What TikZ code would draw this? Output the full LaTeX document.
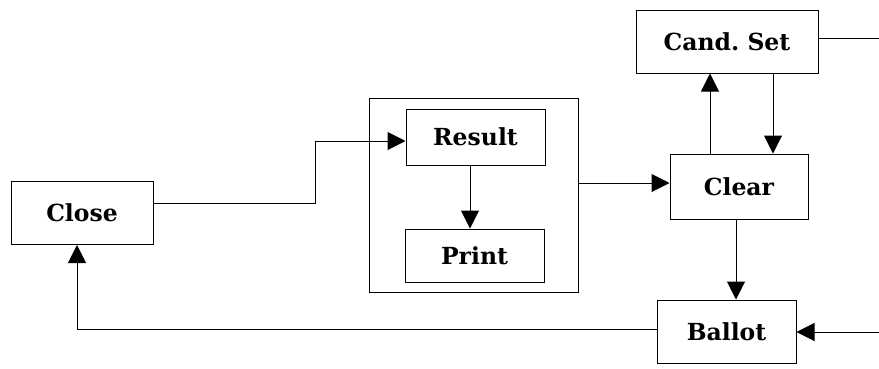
\documentclass[tikz,border=0pt]{standalone}
\usepackage{fontspec}
\setmainfont{DejaVu Serif}
\usetikzlibrary{arrows.meta}
\begin{document}
\begin{tikzpicture}[x=1pt,y=-1pt,
  box/.style={draw, line width=1pt, inner sep=0pt, font=\fontsize{23.5}{27}\selectfont\bfseries},
  link/.style={line width=1pt},
  arr/.style={link, -{Triangle[length=18pt,width=18pt]}}]
\useasboundingbox (0,0) rectangle (879,368);
\node[box, minimum width=142pt, minimum height=63pt] (close) at (82,213) {Close};
\draw[line width=1pt] (369,98) rectangle (578,292);
\coordinate (outerR) at (578,183);
\node[box, minimum width=139pt, minimum height=56pt] (result) at (475.5,137) {Result};
\node[box, minimum width=139pt, minimum height=53pt] (print) at (474.5,255.5) {Print};
\node[box, minimum width=182pt, minimum height=63pt] (cand) at (727,41.5) {Cand.\ Set};
\node[box, minimum width=138pt, minimum height=65pt] (clear) at (739,186.5) {Clear};
\node[box, minimum width=139pt, minimum height=63pt] (ballot) at (726.5,331.5) {Ballot};
\coordinate (candR) at (879,38);
\coordinate (ballotR) at (879,332);
\draw[arr] (close.east |- 0,203) -- (315,203) |- (result.west |- 0,141);
\draw[arr] (result.south -| 470,0) -- (print.north -| 470,0);
\draw[arr] (outerR) -- (clear.west |- outerR);
\draw[arr] (clear.north -| 710,0) -- (cand.south -| 710,0);
\draw[arr] (cand.south -| 773,0) -- (clear.north -| 773,0);
\draw[arr] (clear.south -| 736,0) -- (ballot.north -| 736,0);
\draw[link] (cand.east |- candR) -- (candR);
\draw[arr] (ballotR) -- (ballot.east |- ballotR);
\draw[arr] (ballot.west |- 0,329) -| (close.south -| 77,0);
\end{tikzpicture}
\end{document}
